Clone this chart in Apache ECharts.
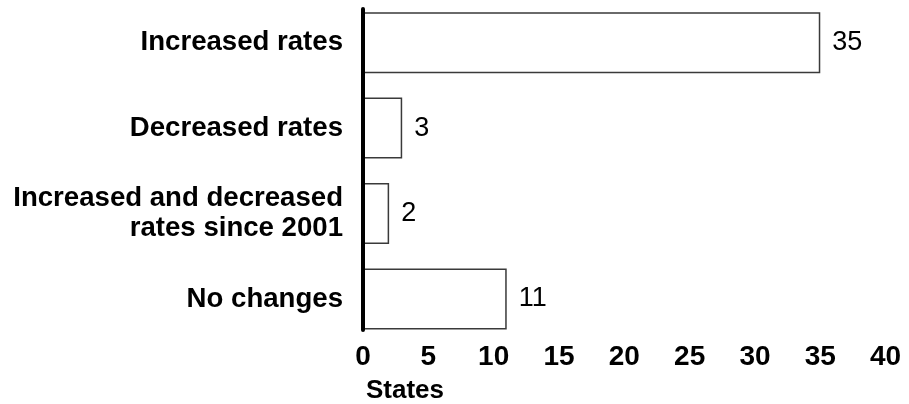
<!DOCTYPE html>
<html>
<head>
<meta charset="utf-8">
<script src="https://cdn.jsdelivr.net/npm/echarts@6/dist/echarts.min.js"></script>
<style>
html,body{margin:0;padding:0;background:#fff;}
#chart{width:909px;height:404px;}
</style>
</head>
<body>
<div id="chart"></div>
<script>
const categories = ['Increased rates', 'Decreased rates', 'Increased and decreased\nrates since 2001', 'No changes'];
const values = [35, 3, 2, 11];
const xTicks = [0, 5, 10, 15, 20, 25, 30, 35, 40];
const axisName = 'States';

const FONT = '"Liberation Sans", Arial, Helvetica, sans-serif';
const chart = echarts.init(document.getElementById('chart'));
const left = 363, plotW = 522.6;
chart.setOption({
  backgroundColor: '#fff',
  animation: false,
  title: {
    text: axisName, left: 366, top: 378, padding: 0,
    textStyle: { fontFamily: FONT, fontSize: 26, fontWeight: 'bold', color: '#000' }
  },
  grid: [
    { left: left, width: plotW, top: -3.67, height: 345.33 },
    { left: left, width: plotW, top: 9, height: 321 }
  ],
  xAxis: [
    { gridIndex: 0, type: 'value', min: xTicks[0], max: xTicks[xTicks.length - 1], interval: 5,
      axisLine: { show: false }, axisTick: { show: false }, axisLabel: { show: false }, splitLine: { show: false } },
    { gridIndex: 1, type: 'value', min: xTicks[0], max: xTicks[xTicks.length - 1], interval: 5,
      axisLine: { show: false }, axisTick: { show: false }, splitLine: { show: false },
      axisLabel: { margin: 13, fontFamily: FONT, fontSize: 28, fontWeight: 'bold', color: '#000' } }
  ],
  yAxis: [
    { gridIndex: 0, type: 'category', data: categories, inverse: true,
      axisLine: { show: false }, axisTick: { show: false },
      axisLabel: { margin: 20, fontFamily: FONT, fontSize: 27.6, fontWeight: 'bold', color: '#000', align: 'right', lineHeight: 30 } },
    { gridIndex: 1, type: 'value', min: 0, max: 1, z: 10,
      axisLine: { show: true, lineStyle: { color: '#000', width: 4 } },
      axisTick: { show: false }, axisLabel: { show: false }, splitLine: { show: false } }
  ],
  series: [{
    type: 'bar', xAxisIndex: 0, yAxisIndex: 0, data: values, barWidth: 61,
    itemStyle: { color: '#fff', borderColor: '#3a3a3a', borderWidth: 1.5 },
    label: { show: true, position: 'right', distance: 12, fontFamily: FONT, fontSize: 27, color: '#000' }
  }]
});
</script>
</body>
</html>
